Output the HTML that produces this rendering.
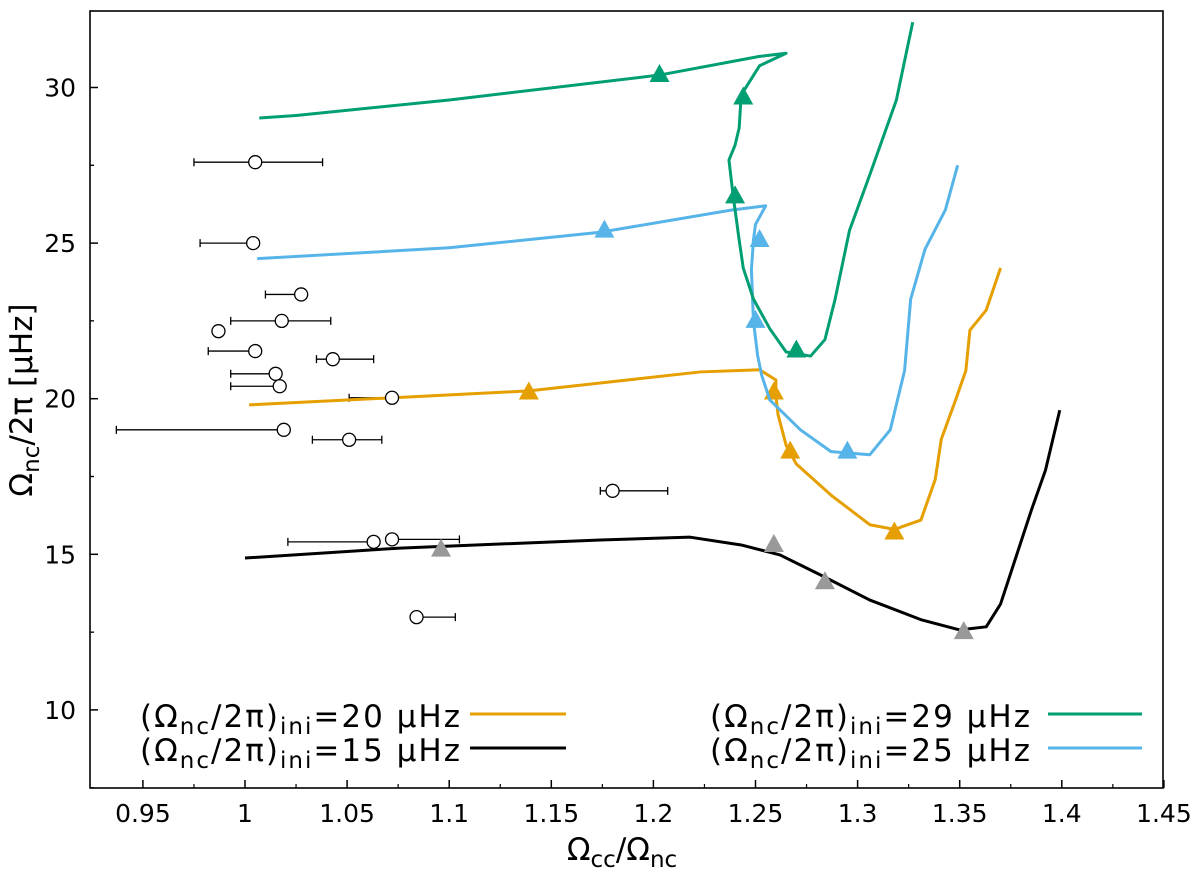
<!DOCTYPE html>
<html><head><meta charset="utf-8"><style>
body{margin:0;background:#fff}
svg text{font-family:"DejaVu Sans","Liberation Sans",sans-serif;fill:#000}
</style></head><body>
<svg id="chart" width="1200" height="874" xmlns="http://www.w3.org/2000/svg">
</svg>
<script>
const xTicks=[0.95,1,1.05,1.1,1.15,1.2,1.25,1.3,1.35,1.4,1.45];
const xTickLabels=["0.95","1","1.05","1.1","1.15","1.2","1.25","1.3","1.35","1.4","1.45"];
const yTicks=[10,15,20,25,30];
const yTickLabels=["10","15","20","25","30"];
const obsX=[1.005,1.004,1.0275,0.987,1.018,1.005,1.043,1.015,1.017,1.072,1.019,1.051,1.180,1.063,1.072,1.084];
const obsY=[27.6,25.0,23.35,22.17,22.5,21.53,21.27,20.8,20.4,20.03,19.0,18.68,17.04,15.4,15.48,12.98];
const obsLo=[0.975,0.978,1.010,0.987,0.993,0.982,1.035,0.993,0.993,1.051,0.937,1.033,1.174,1.021,1.072,1.084];
const obsHi=[1.038,1.004,1.0275,0.987,1.042,1.005,1.063,1.015,1.017,1.072,1.019,1.067,1.207,1.063,1.105,1.103];
const g29x=[1.007,1.025,1.1,1.203,1.252,1.265,1.252,1.243,1.242,1.240,1.237,1.239,1.242,1.244,1.249,1.257,1.265,1.277,1.284,1.289,1.296,1.306,1.319,1.327];
const g29y=[29.02,29.1,29.6,30.4,31.0,31.1,30.7,29.76,28.7,28.15,27.67,26.55,25.1,24.2,23.2,22.25,21.5,21.37,21.9,23.2,25.4,27.2,29.6,32.1];
const g29tx=[1.203,1.244,1.240,1.270];
const g29ty=[30.4,29.68,26.5,21.55];
const b25x=[1.006,1.1,1.174,1.238,1.255,1.250,1.249,1.248,1.249,1.251,1.253,1.257,1.272,1.287,1.306,1.316,1.323,1.326,1.333,1.343,1.349];
const b25y=[24.5,24.85,25.35,26.06,26.2,25.6,25.1,24.15,22.5,21.4,20.76,19.96,19.0,18.3,18.2,19.0,20.9,23.2,24.8,26.07,27.5];
const b25tx=[1.176,1.252,1.250,1.295];
const b25ty=[25.4,25.1,22.5,18.3];
const o20x=[1.002,1.139,1.223,1.252,1.26,1.26,1.261,1.265,1.27,1.287,1.306,1.318,1.331,1.338,1.341,1.348,1.353,1.355,1.363,1.37];
const o20y=[19.8,20.25,20.86,20.93,20.6,20.1,19.5,18.5,17.9,16.9,15.95,15.8,16.1,17.4,18.7,19.96,20.9,22.2,22.85,24.2];
const o20tx=[1.139,1.259,1.267,1.318];
const o20ty=[20.2,20.2,18.3,15.7];
const k15x=[1.0,1.076,1.174,1.218,1.243,1.262,1.282,1.306,1.331,1.350,1.363,1.37,1.377,1.385,1.392,1.399];
const k15y=[14.88,15.2,15.46,15.55,15.3,14.98,14.33,13.53,12.9,12.57,12.67,13.4,14.8,16.4,17.7,19.63];
const k15tx=[1.096,1.259,1.284,1.352];
const k15ty=[15.15,15.3,14.1,12.5];

const L=90,R=1163,T=11,B=788;
const X=v=>245+(v-1)*2042;
const Y=v=>87.5+(30-v)*31.12;
const svg=document.getElementById('chart');
const NS="http://www.w3.org/2000/svg";
function mk(t,a,p){const e=document.createElementNS(NS,t);for(const k in a)e.setAttribute(k,a[k]);(p||svg).appendChild(e);return e;}

xTicks.forEach((v,i)=>{
  const t=mk('line',{x1:X(v),x2:X(v),y1:B,y2:B-8,stroke:'#000','stroke-width':1.5});
  
  
  const m=mk('line',{x1:X(v+0.025),x2:X(v+0.025),y1:B,y2:B-4,stroke:'#000','stroke-width':1.2});
  
  
  const tx=mk('text',{x:X(v),y:B+34,'text-anchor':'middle','font-size':25});
  tx.textContent=xTickLabels[i];
  
  
});
yTicks.forEach((v,i)=>{
  const t=mk('line',{x1:L,x2:L+8,y1:Y(v),y2:Y(v),stroke:'#000','stroke-width':1.5});
  
  
  [v-2.5,v+2.5].forEach(mv=>{if(Y(mv)>T&&Y(mv)<B){
    const m=mk('line',{x1:L,x2:L+4,y1:Y(mv),y2:Y(mv),stroke:'#000','stroke-width':1.2});
    
    }});
  const tx=mk('text',{x:L-14,y:Y(v)+9,'text-anchor':'end','font-size':25});
  tx.textContent=yTickLabels[i];
  
  
});

obsX.forEach((v,i)=>{
  if(obsHi[i]-obsLo[i]>0.001){
    const e=mk('path',{d:`M${X(obsLo[i])},${Y(obsY[i])}H${X(obsHi[i])}M${X(obsLo[i])},${Y(obsY[i])-4}v8M${X(obsHi[i])},${Y(obsY[i])-4}v8`,stroke:'#000','stroke-width':1.3,fill:'none'});
    
    
  }
});
function series(xs,ys,txs,tys,col,tcol,name){
  const p=mk('polyline',{points:xs.map((v,i)=>X(v)+','+Y(ys[i])).join(' '),fill:'none',stroke:col,'stroke-width':3,'stroke-linejoin':'round'});
  
  
  txs.forEach((v,i)=>{
    const x=X(v),y=Y(tys[i]);
    const t=mk('polygon',{points:`${x},${y-11} ${x-10},${y+7} ${x+10},${y+7}`,fill:tcol});
    
    
  });
}
series(k15x,k15y,k15tx,k15ty,'#000','#999999','track-15');
series(o20x,o20y,o20tx,o20ty,'#E69F00','#E69F00','track-20');
series(b25x,b25y,b25tx,b25ty,'#56B4E9','#56B4E9','track-25');
series(g29x,g29y,g29tx,g29ty,'#009E73','#009E73','track-29');
obsX.forEach((v,i)=>{
  const c=mk('circle',{cx:X(v),cy:Y(obsY[i]),r:6.5,fill:'#fff',stroke:'#000','stroke-width':1.3});
  
  
});
const fr=mk('rect',{x:L,y:T,width:R-L,height:B-T,fill:'none',stroke:'#000','stroke-width':1.6});


</script>
<svg style="position:absolute;left:0;top:0" width="1200" height="874">
<text x="622" y="860" text-anchor="middle" font-size="31">Ω<tspan font-size="23" dy="7">cc</tspan><tspan dy="-7">/Ω</tspan><tspan font-size="23" dy="7">nc</tspan></text>
<text transform="translate(32,400) rotate(-90)" text-anchor="middle" font-size="31">Ω<tspan font-size="23" dy="7">nc</tspan><tspan dy="-7">/2π [μHz]</tspan></text>
<g font-size="31">
<text x="460" y="727" text-anchor="end" textLength="320">(Ω<tspan font-size="23" dy="7">nc</tspan><tspan dy="-7">/2π)</tspan><tspan font-size="23" dy="7">ini</tspan><tspan dy="-7">=20 μHz</tspan></text>
<line x1="470" x2="566" y1="714" y2="714" stroke="#E69F00" stroke-width="3"/>
<text x="460" y="761" text-anchor="end" textLength="320">(Ω<tspan font-size="23" dy="7">nc</tspan><tspan dy="-7">/2π)</tspan><tspan font-size="23" dy="7">ini</tspan><tspan dy="-7">=15 μHz</tspan></text>
<line x1="470" x2="566" y1="748" y2="748" stroke="#000" stroke-width="3"/>
<text x="1030" y="727" text-anchor="end" textLength="320">(Ω<tspan font-size="23" dy="7">nc</tspan><tspan dy="-7">/2π)</tspan><tspan font-size="23" dy="7">ini</tspan><tspan dy="-7">=29 μHz</tspan></text>
<line x1="1048" x2="1142" y1="714" y2="714" stroke="#009E73" stroke-width="3"/>
<text x="1030" y="761" text-anchor="end" textLength="320">(Ω<tspan font-size="23" dy="7">nc</tspan><tspan dy="-7">/2π)</tspan><tspan font-size="23" dy="7">ini</tspan><tspan dy="-7">=25 μHz</tspan></text>
<line x1="1048" x2="1142" y1="748" y2="748" stroke="#56B4E9" stroke-width="3"/>
</g>
</svg>
</body></html>
